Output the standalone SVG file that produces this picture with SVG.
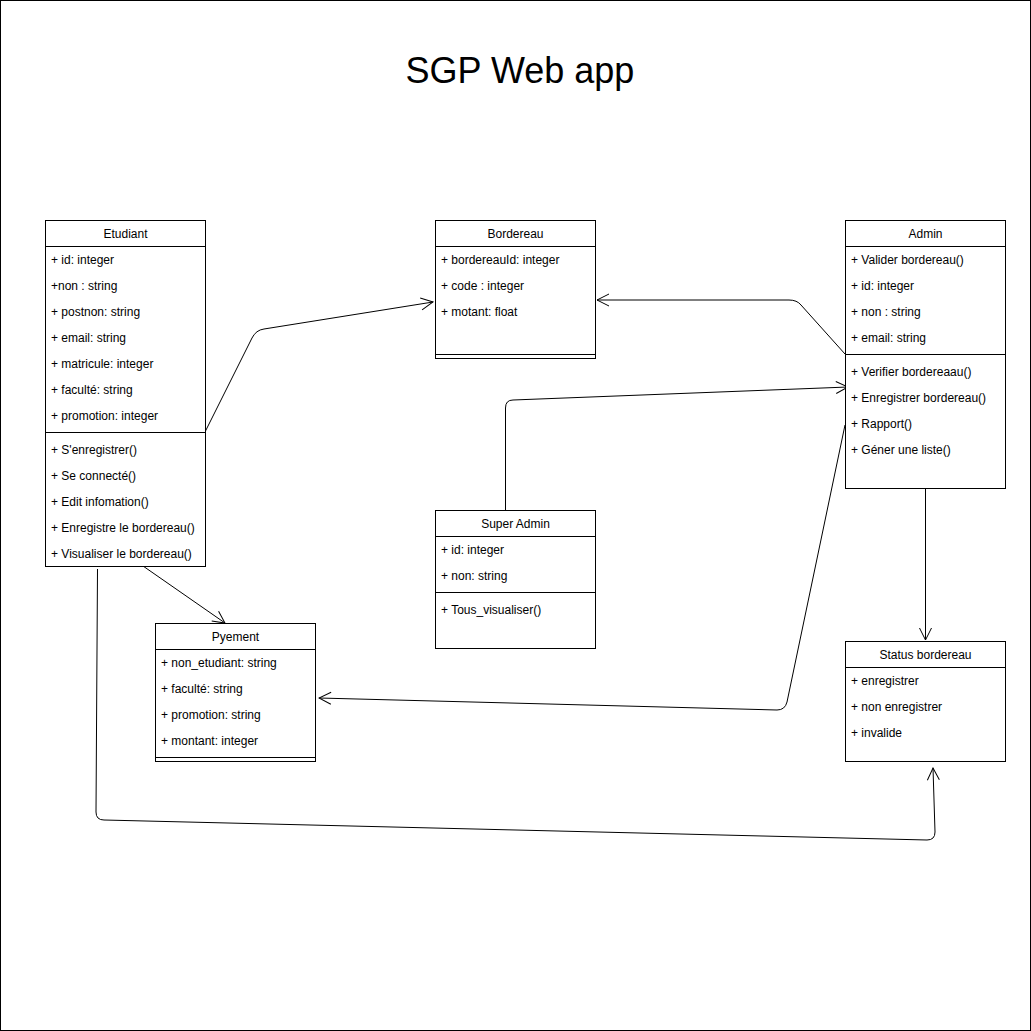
<svg xmlns="http://www.w3.org/2000/svg" width="1031" height="1031" viewBox="0 0 1031 1031">
<style>
.box{fill:#fff;stroke:#000;stroke-width:1}
.ln{stroke:#000;stroke-width:1;fill:none}
.t{font-family:"Liberation Sans",Arial,sans-serif;font-size:12px;fill:#000}
.h{text-anchor:middle}
.c{fill:none;stroke:#000;stroke-width:1}
</style>
<defs>
<marker id="open" viewBox="0 0 14 14" refX="13" refY="7" markerWidth="14" markerHeight="14" markerUnits="userSpaceOnUse" orient="auto">
<path d="M1 1 L13 7 L1 13" fill="none" stroke="#000" stroke-width="1"/>
</marker>
</defs>
<rect x="0.5" y="0.5" width="1030" height="1030" fill="#fff" stroke="#000"/>
<text x="520" y="83" text-anchor="middle" font-family="Liberation Sans, Arial, sans-serif" font-size="36">SGP Web app</text>

<g id="connectors">
<path class="c" d="M205 432 L252 338 Q256 330 264 329 L433 302" marker-end="url(#open)"/>
<path class="c" d="M845 354 L801 305 Q797 300 789 300 L597 300" marker-end="url(#open)"/>
<path class="c" d="M505.5 510 L505.5 408 Q505.5 400 513 400 L848 387" marker-end="url(#open)"/>
<path class="c" d="M845 425 L787 702 Q785 710 777 710 L319 698" marker-end="url(#open)"/>
<path class="c" d="M143 566 L225 623" marker-end="url(#open)"/>
<path class="c" d="M925.5 488 L925.5 640" marker-end="url(#open)"/>
<path class="c" d="M97.5 569 L96 812 Q96 820 104 820 L927 840 Q935 840 935 832 L933 768" marker-end="url(#open)"/>
</g>

<g id="etudiant">
<rect class="box" x="45.5" y="220.5" width="160" height="346"/>
<line class="ln" x1="45.5" y1="246.5" x2="205.5" y2="246.5"/>
<line class="ln" x1="45.5" y1="432.5" x2="205.5" y2="432.5"/>
<text class="t h" x="125.5" y="238">Etudiant</text>
<text class="t" x="51" y="264">+ id: integer</text>
<text class="t" x="51" y="290">+non : string</text>
<text class="t" x="51" y="316">+ postnon: string</text>
<text class="t" x="51" y="342">+ email: string</text>
<text class="t" x="51" y="368">+ matricule: integer</text>
<text class="t" x="51" y="394">+ faculté: string</text>
<text class="t" x="51" y="420">+ promotion: integer</text>
<text class="t" x="51" y="454">+ S'enregistrer()</text>
<text class="t" x="51" y="480">+ Se connecté()</text>
<text class="t" x="51" y="506">+ Edit infomation()</text>
<text class="t" x="51" y="532">+ Enregistre le bordereau()</text>
<text class="t" x="51" y="558">+ Visualiser le bordereau()</text>
</g>

<g id="bordereau">
<rect class="box" x="435.5" y="220.5" width="160" height="138"/>
<line class="ln" x1="435.5" y1="246.5" x2="595.5" y2="246.5"/>
<line class="ln" x1="435.5" y1="354.5" x2="595.5" y2="354.5"/>
<text class="t h" x="515.5" y="238">Bordereau</text>
<text class="t" x="441" y="264">+ bordereauId: integer</text>
<text class="t" x="441" y="290">+ code : integer</text>
<text class="t" x="441" y="316">+ motant: float</text>
</g>

<g id="admin">
<rect class="box" x="845.5" y="220.5" width="160" height="268"/>
<line class="ln" x1="845.5" y1="246.5" x2="1005.5" y2="246.5"/>
<line class="ln" x1="845.5" y1="354.5" x2="1005.5" y2="354.5"/>
<text class="t h" x="925.5" y="238">Admin</text>
<text class="t" x="851" y="264">+ Valider bordereau()</text>
<text class="t" x="851" y="290">+ id: integer</text>
<text class="t" x="851" y="316">+ non : string</text>
<text class="t" x="851" y="342">+ email: string</text>
<text class="t" x="851" y="376">+ Verifier bordereaau()</text>
<text class="t" x="851" y="402">+ Enregistrer bordereau()</text>
<text class="t" x="851" y="428">+ Rapport()</text>
<text class="t" x="851" y="454">+ Géner une liste()</text>
</g>

<g id="superadmin">
<rect class="box" x="435.5" y="510.5" width="160" height="138"/>
<line class="ln" x1="435.5" y1="536.5" x2="595.5" y2="536.5"/>
<line class="ln" x1="435.5" y1="592.5" x2="595.5" y2="592.5"/>
<text class="t h" x="515.5" y="528">Super Admin</text>
<text class="t" x="441" y="554">+ id: integer</text>
<text class="t" x="441" y="580">+ non: string</text>
<text class="t" x="441" y="614">+ Tous_visualiser()</text>
</g>

<g id="pyement">
<rect class="box" x="155.5" y="623.5" width="160" height="138"/>
<line class="ln" x1="155.5" y1="649.5" x2="315.5" y2="649.5"/>
<line class="ln" x1="155.5" y1="757.5" x2="315.5" y2="757.5"/>
<text class="t h" x="235.5" y="641">Pyement</text>
<text class="t" x="161" y="667">+ non_etudiant: string</text>
<text class="t" x="161" y="693">+ faculté: string</text>
<text class="t" x="161" y="719">+ promotion: string</text>
<text class="t" x="161" y="745">+ montant: integer</text>
</g>

<g id="status">
<rect class="box" x="845.5" y="641.5" width="160" height="120"/>
<line class="ln" x1="845.5" y1="667.5" x2="1005.5" y2="667.5"/>
<text class="t h" x="925.5" y="659">Status bordereau</text>
<text class="t" x="851" y="685">+ enregistrer</text>
<text class="t" x="851" y="711">+ non enregistrer</text>
<text class="t" x="851" y="737">+ invalide</text>
</g>
</svg>
